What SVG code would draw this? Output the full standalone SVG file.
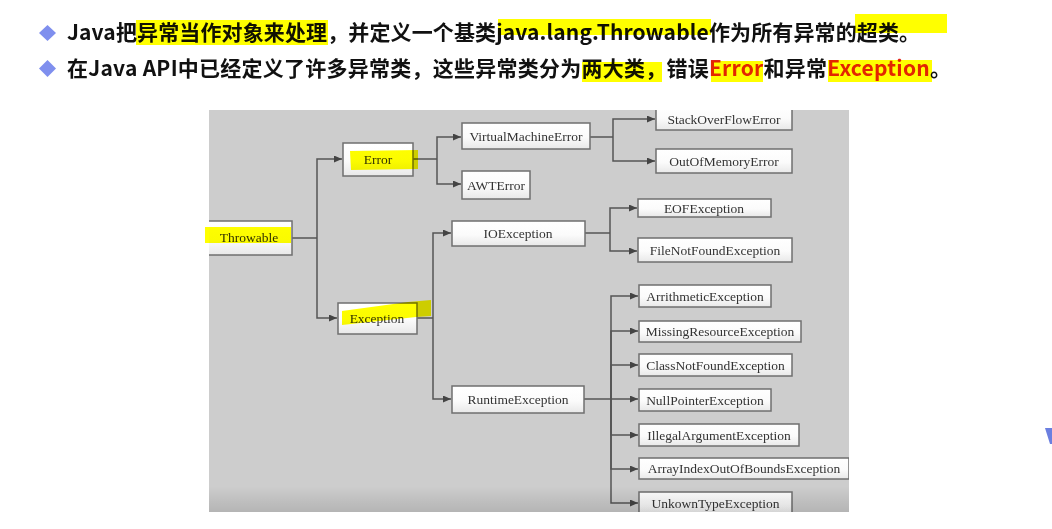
<svg xmlns="http://www.w3.org/2000/svg" width="1052" height="529" viewBox="0 0 1052 529">
  <style>
    .head { font-family: "Noto Sans CJK SC", "Noto Sans", sans-serif; font-weight: bold; font-size: 21px; fill: #111; }
    .red { fill: #e3261c; }
    .bullet { fill: #7f8fee; }
    .hl { fill: #ffff00; mix-blend-mode: multiply; }
    .box { fill: url(#boxFill); stroke: #6f6f6f; stroke-width: 1.5; }
    .lbl { font-family: "Liberation Serif", "Times New Roman", serif; font-size: 13.5px; fill: #333; text-anchor: middle; }
    .wire { fill: none; stroke: #555; stroke-width: 1.5; }
    .arrow { marker-end: url(#tip); }
  </style>
  <defs>
    <linearGradient id="boxFill" x1="0" y1="0" x2="0" y2="1">
      <stop offset="0" stop-color="#ffffff"/>
      <stop offset="0.55" stop-color="#fbfbfb"/>
      <stop offset="1" stop-color="#e8e8e8"/>
    </linearGradient>
    <linearGradient id="floorShade" x1="0" y1="0" x2="0" y2="1">
      <stop offset="0" stop-color="#000" stop-opacity="0"/>
      <stop offset="1" stop-color="#000" stop-opacity="0.12"/>
    </linearGradient>
    <marker id="tip" markerUnits="userSpaceOnUse" markerWidth="9" markerHeight="8" refX="8" refY="3.5" orient="auto">
      <path d="M0,0 L8,3.5 L0,7 z" fill="#444"/>
    </marker>
    <clipPath id="panelClip">
      <rect x="209" y="110" width="640" height="402"/>
    </clipPath>
  </defs>

  <rect width="1052" height="529" fill="#ffffff"/>

  <!-- heading bullets -->
  <path class="bullet" d="M47.5,25 L56,33 L47.5,41 L39,33 z"/>
  <path class="bullet" d="M47.5,60 L56,68.5 L47.5,77 L39,68.5 z"/>

  <!-- heading line 1 -->
  <text class="head" x="67" y="40" textLength="853" lengthAdjust="spacing">Java把异常当作对象来处理，并定义一个基类java.lang.Throwable作为所有异常的超类。</text>
  <rect class="hl" x="136" y="20" width="192" height="25"/>
  <rect class="hl" x="498" y="19" width="213" height="16"/>
  <rect class="hl" x="855" y="14" width="92" height="19"/>

  <!-- heading line 2 -->
  <text class="head" x="67" y="76" textLength="884" lengthAdjust="spacing">在Java API中已经定义了许多异常类，这些异常类分为两大类，错误<tspan class="red">Error</tspan>和异常<tspan class="red">Exception</tspan>。</text>
  <rect class="hl" x="582" y="62" width="80" height="20"/>
  <rect class="hl" x="711" y="61" width="52" height="21"/>
  <rect class="hl" x="828" y="60" width="104" height="22"/>

  <!-- class hierarchy panel -->
  <rect x="209" y="110" width="640" height="402" fill="#cdcdcd"/>

  <g clip-path="url(#panelClip)">
    <g id="connectors">
      <path class="wire" d="M292,238 H317"/>
      <path class="wire arrow" d="M317,238 V159 H342"/>
      <path class="wire arrow" d="M317,238 V318 H337"/>

      <path class="wire" d="M413,159 H437"/>
      <path class="wire arrow" d="M437,159 V137 H461"/>
      <path class="wire arrow" d="M437,159 V184 H461"/>

      <path class="wire" d="M590,137 H613"/>
      <path class="wire arrow" d="M613,137 V119 H655"/>
      <path class="wire arrow" d="M613,137 V161 H655"/>

      <path class="wire" d="M417,318 H433"/>
      <path class="wire arrow" d="M433,318 V233 H451"/>
      <path class="wire arrow" d="M433,318 V399 H451"/>

      <path class="wire" d="M585,233 H610"/>
      <path class="wire arrow" d="M610,233 V208 H637"/>
      <path class="wire arrow" d="M610,233 V251 H637"/>

      <path class="wire" d="M584,399 H611"/>
      <path class="wire arrow" d="M611,399 V296 H638"/>
      <path class="wire arrow" d="M611,399 V331 H638"/>
      <path class="wire arrow" d="M611,399 V365 H638"/>
      <path class="wire arrow" d="M611,399 H638"/>
      <path class="wire arrow" d="M611,399 V435 H638"/>
      <path class="wire arrow" d="M611,399 V469 H638"/>
      <path class="wire arrow" d="M611,399 V503 H638"/>
    </g>

    <g id="throwable">
      <rect class="box" x="200" y="221" width="92" height="34"/>
      <text class="lbl" x="249" y="242">Throwable</text>
    </g>
    <g id="error">
      <rect class="box" x="343" y="143" width="70" height="33"/>
      <text class="lbl" x="378" y="164">Error</text>
    </g>
    <g id="virtual-machine-error">
      <rect class="box" x="462" y="123" width="128" height="26"/>
      <text class="lbl" x="526" y="141">VirtualMachineError</text>
    </g>
    <g id="awt-error">
      <rect class="box" x="462" y="171" width="68" height="28"/>
      <text class="lbl" x="496" y="190">AWTError</text>
    </g>
    <g id="stack-overflow-error">
      <rect class="box" x="656" y="104" width="136" height="26"/>
      <text class="lbl" x="724" y="124">StackOverFlowError</text>
    </g>
    <g id="out-of-memory-error">
      <rect class="box" x="656" y="149" width="136" height="24"/>
      <text class="lbl" x="724" y="166">OutOfMemoryError</text>
    </g>
    <g id="exception">
      <rect class="box" x="338" y="303" width="79" height="31"/>
      <text class="lbl" x="377" y="323">Exception</text>
    </g>
    <g id="io-exception">
      <rect class="box" x="452" y="221" width="133" height="25"/>
      <text class="lbl" x="518" y="238">IOException</text>
    </g>
    <g id="eof-exception">
      <rect class="box" x="638" y="199" width="133" height="18"/>
      <text class="lbl" x="704" y="212.5">EOFException</text>
    </g>
    <g id="file-not-found-exception">
      <rect class="box" x="638" y="238" width="154" height="24"/>
      <text class="lbl" x="715" y="255">FileNotFoundException</text>
    </g>
    <g id="runtime-exception">
      <rect class="box" x="452" y="386" width="132" height="27"/>
      <text class="lbl" x="518" y="404">RuntimeException</text>
    </g>
    <g id="arithmetic-exception">
      <rect class="box" x="639" y="285" width="132" height="22"/>
      <text class="lbl" x="705" y="300.5">ArrithmeticException</text>
    </g>
    <g id="missing-resource-exception">
      <rect class="box" x="639" y="321" width="162" height="21"/>
      <text class="lbl" x="720" y="335.5">MissingResourceException</text>
    </g>
    <g id="class-not-found-exception">
      <rect class="box" x="639" y="354" width="153" height="22"/>
      <text class="lbl" x="715.5" y="369.5">ClassNotFoundException</text>
    </g>
    <g id="null-pointer-exception">
      <rect class="box" x="639" y="389" width="132" height="22"/>
      <text class="lbl" x="705" y="404.5">NullPointerException</text>
    </g>
    <g id="illegal-argument-exception">
      <rect class="box" x="639" y="424" width="160" height="22"/>
      <text class="lbl" x="719" y="439.5">IllegalArgumentException</text>
    </g>
    <g id="array-index-out-of-bounds-exception">
      <rect class="box" x="639" y="458" width="210" height="21"/>
      <text class="lbl" x="744" y="473">ArrayIndexOutOfBoundsException</text>
    </g>
    <g id="unknown-type-exception">
      <rect class="box" x="639" y="492" width="153" height="26"/>
      <text class="lbl" x="715.5" y="508">UnkownTypeException</text>
    </g>

    <!-- darker floor of the panel -->
    <rect x="209" y="486" width="640" height="26" fill="url(#floorShade)"/>
  </g>

  <!-- marker highlights on the diagram -->
  <rect class="hl" x="205" y="227" width="86" height="16"/>
  <path class="hl" d="M350,151 L418,150 L418,169 L351,170 z"/>
  <path class="hl" d="M342,311 L408,302 L431,300 L431,316 L416,317 L342,325 z"/>

  <!-- edge of a neighbouring shape -->
  <polygon points="1045,428 1052,428 1052,444 1050,444" fill="#6b7fe0"/>
</svg>
